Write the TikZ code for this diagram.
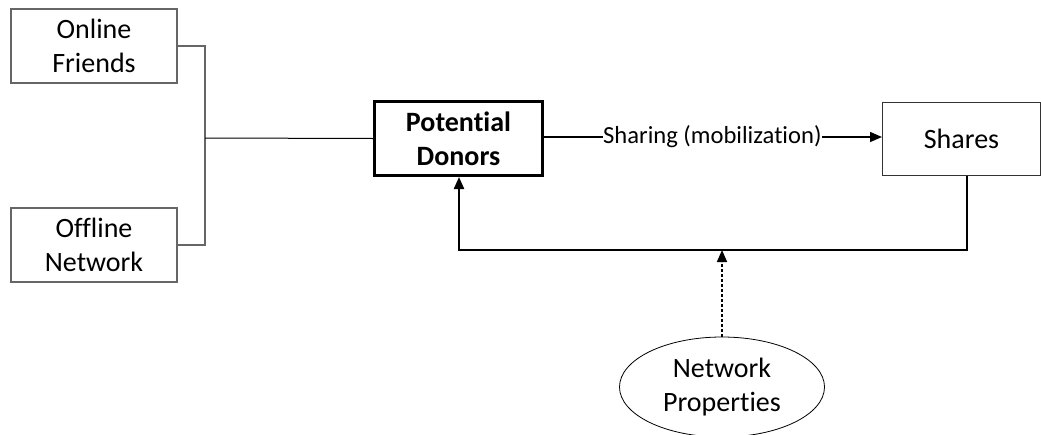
\documentclass[tikz,border=0pt]{standalone}
\usepackage{fontspec}
\setmainfont{Carlito}[Ligatures=NoCommon]
\usetikzlibrary{arrows.meta,shapes.geometric,calc}
\begin{document}
\begin{tikzpicture}[x=1pt,y=-1pt,
  graybox/.style={draw=black!60,line width=1.3pt,rectangle,minimum width=166pt,minimum height=74pt,inner sep=0pt,align=center,font=\fontsize{28}{34}\selectfont},
  boldbox/.style={draw=black,line width=3pt,rectangle,minimum width=168pt,minimum height=74pt,inner sep=0pt,align=center,font=\fontsize{28}{34}\selectfont\bfseries},
  plainbox/.style={draw=black!80,line width=1pt,rectangle,minimum width=158pt,minimum height=73pt,inner sep=0pt,align=center,font=\fontsize{28}{34}\selectfont},
  ovalnode/.style={draw=black,line width=0.8pt,ellipse,minimum width=205pt,minimum height=100pt,inner sep=0pt,align=center,font=\fontsize{28}{34}\selectfont},
  tip/.style={-{Triangle[length=12pt,width=10pt]}},
  grayline/.style={draw=black!60,line width=1.3pt},
]
\useasboundingbox (0,0) rectangle (1041,434);
\node[graybox] (online) at (94,46) {Online\\Friends};
\node[graybox] (offline) at (94,245) {Offline\\Network};
\node[boldbox] (pd) at (458.5,138.5) {Potential\\Donors};
\node[plainbox] (shares) at (961.5,138.5) {Shares};
\node[ovalnode] (np) at (722,387) {Network\\Properties};
\node[inner sep=0pt,font=\fontsize{24.6}{30}\selectfont,anchor=west] (lbl) at (603,137) {Sharing (mobilization)};
\coordinate (j) at (205,138);
\coordinate (fb1) at (967,250);
\coordinate (fb2) at (459,250);
\draw[grayline] (online.east) -| (j);
\draw[grayline] (offline.east) -| (j);
\draw[line width=1pt] (j) -- (pd.west);
\draw[line width=1.5pt] (pd.east |- lbl.west) -- (lbl.west);
\draw[line width=1.5pt,tip] (lbl.east) -- (shares.west |- lbl.east);
\draw[line width=2.2pt,tip] (shares.south -| fb1) -- (fb1) -- (fb2) -- (pd.south -| fb2);
\draw[line width=1.6pt,dash pattern=on 3pt off 2pt,tip] (np.north) -- (np.north |- fb1);
\end{tikzpicture}
\end{document}
